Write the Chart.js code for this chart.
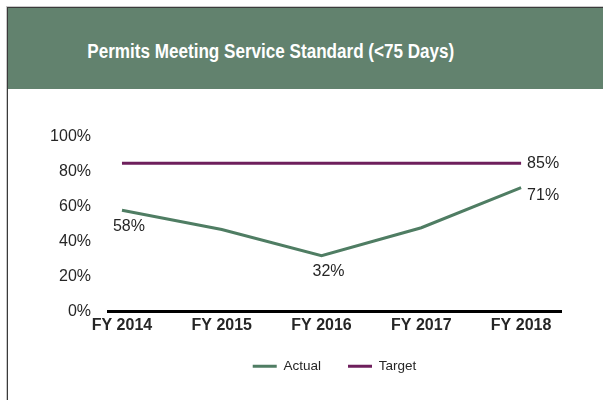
<!DOCTYPE html>
<html>
<head>
<meta charset="utf-8">
<script src="https://cdn.jsdelivr.net/npm/chart.js@4.4.1/dist/chart.umd.min.js"></script>
<style>
  html, body { margin: 0; padding: 0; background: #ffffff; width: 603px; height: 400px; overflow: hidden; }
  #frame { position: absolute; left: 7px; top: 7px; width: 700px; height: 500px;
           border-left: 1px solid #3a3a3a; border-top: 1px solid #3a3a3a; box-shadow: -1px -1px 0 #c9c9c9; }
  #head { position: absolute; left: 0; top: 0; width: 700px; height: 81px; background: #62826e; }
  #title { position: absolute; left: 0; top: 3px; width: 526px; height: 81px; line-height: 81px;
           text-align: center; color: #ffffff; font-weight: bold; font-size: 20px;
           font-family: "Liberation Sans", Arial, Helvetica, sans-serif; white-space: nowrap; }
  #title span { display: inline-block; transform-origin: 50% 50%; }
  #wrap { position: absolute; left: 0; top: 89px; width: 603px; height: 311px; }
</style>
</head>
<body>
<div id="frame">
  <div id="head"><div id="title"><span id="tt">Permits Meeting Service Standard (&lt;75 Days)</span></div></div>
</div>
<div id="wrap"><canvas id="c" width="603" height="311"></canvas></div>
<script>
const categories = ['FY 2014', 'FY 2015', 'FY 2016', 'FY 2017', 'FY 2018'];
const actualValues = [58, 47, 32, 48, 71];
const targetValues = [85, 85, 85, 85, 85];
const yTickValues = [0, 20, 40, 60, 80, 100];

// label placement (styling only)
const actualLabelPlacement = [
  { align: 'center', dx: 7, dy: 16 }, null,
  { align: 'center', dx: 7, dy: 16 }, null,
  { align: 'left', dx: 6, dy: 8 }
];
const targetLabelPlacement = [null, null, null, null, { align: 'left', dx: 6, dy: 0 }];

// condensed look for the header title
const tt = document.getElementById('tt');
const tw = tt.getBoundingClientRect().width;
if (tw > 0) tt.style.transform = 'scaleX(' + (367 / tw) + ')';

const FONT = '"Liberation Sans", Arial, Helvetica, sans-serif';
const TEXT = '#262626';

const pointLabels = {
  id: 'pointLabels',
  afterDatasetsDraw(chart) {
    const ctx = chart.ctx;
    chart.data.datasets.forEach((ds, di) => {
      const meta = chart.getDatasetMeta(di);
      const place = ds.labelPlacement || [];
      meta.data.forEach((pt, i) => {
        const p = place[i];
        if (!p) return;
        const v = ds.data[i].y;
        ctx.save();
        ctx.font = '16px ' + FONT;
        ctx.fillStyle = TEXT;
        ctx.textAlign = p.align;
        ctx.textBaseline = 'middle';
        ctx.fillText(v + '%', pt.x + p.dx, pt.y + p.dy);
        ctx.restore();
      });
    });
  }
};

new Chart(document.getElementById('c'), {
  type: 'line',
  data: {
    datasets: [
      {
        label: 'Actual',
        data: actualValues.map((v, i) => ({ x: i, y: v })),
        borderColor: '#4f7d63',
        backgroundColor: '#4f7d63',
        borderWidth: 3,
        pointRadius: 0,
        tension: 0,
        labelPlacement: actualLabelPlacement
      },
      {
        label: 'Target',
        data: targetValues.map((v, i) => ({ x: i, y: v })),
        borderColor: '#6e1f5c',
        backgroundColor: '#6e1f5c',
        borderWidth: 3,
        pointRadius: 0,
        tension: 0,
        labelPlacement: targetLabelPlacement
      }
    ]
  },
  options: {
    responsive: false,
    animation: false,
    layout: { padding: { left: 0, right: 42, top: 48, bottom: 17 } },
    scales: {
      x: {
        type: 'linear',
        min: -0.14,
        max: categories.length - 1 + 0.4,
        afterBuildTicks: (s) => { s.ticks = categories.map((_, i) => ({ value: i })); },
        afterFit: (s) => { s.height = 21; },
        grid: { display: false, drawTicks: false },
        border: { display: true, color: '#000000', width: 3 },
        ticks: {
          autoSkip: false, maxRotation: 0, padding: 4,
          color: TEXT,
          font: { family: FONT, size: 16, weight: 'bold' },
          callback: (v) => categories[v]
        }
      },
      y: {
        min: 0, max: 100,
        afterBuildTicks: (s) => { s.ticks = yTickValues.map(v => ({ value: v })); },
        afterFit: (s) => { s.width = 108; },
        grid: { display: false, drawTicks: false },
        border: { display: false },
        ticks: {
          padding: 17,
          color: TEXT,
          font: { family: FONT, size: 16 },
          callback: (v) => v + '%'
        }
      }
    },
    plugins: {
      legend: {
        position: 'bottom',
        fullSize: false,
        labels: {
          usePointStyle: true,
          pointStyle: 'line',
          pointStyleWidth: 24,
          padding: 27,
          color: TEXT,
          font: { family: FONT, size: 13.5 }
        }
      },
      tooltip: { enabled: false }
    }
  },
  plugins: [pointLabels]
});
</script>
</body>
</html>
